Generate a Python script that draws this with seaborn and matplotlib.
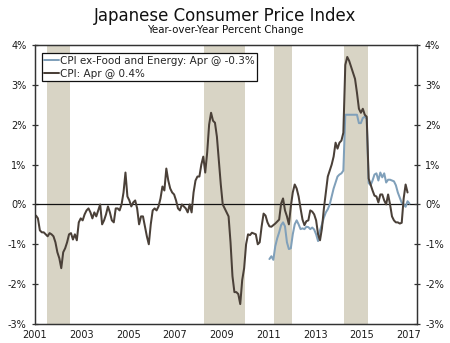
import matplotlib
matplotlib.use("Agg")
import matplotlib.pyplot as plt
import numpy as np
import pandas as pd
import seaborn as sns

# ---------------- data ----------------
cpi_start_year = 2001  # monthly, starting January
cpi = [
    -0.28, -0.35, -0.65, -0.70, -0.70, -0.75, -0.80, -0.72, -0.75, -0.80, -0.95, -1.20,  # 2001
    -1.35, -1.60, -1.20, -1.10, -0.95, -0.75, -0.72, -0.88, -0.75, -0.90, -0.45, -0.35,  # 2002
    -0.40, -0.25, -0.15, -0.10, -0.20, -0.35, -0.20, -0.30, -0.15, 0.00, -0.50, -0.40,   # 2003
    -0.25, -0.05, -0.20, -0.40, -0.45, -0.10, -0.10, -0.15, 0.00, 0.30, 0.80, 0.20,      # 2004
    0.10, -0.05, 0.05, 0.10, -0.10, -0.50, -0.30, -0.30, -0.55, -0.80, -1.00, -0.50,     # 2005
    -0.15, -0.10, -0.15, -0.05, 0.15, 0.45, 0.35, 0.90, 0.60, 0.40, 0.30, 0.25,          # 2006
    0.10, -0.10, -0.15, 0.00, -0.05, -0.10, -0.20, 0.00, -0.20, 0.30, 0.60, 0.70,        # 2007
    0.70, 1.00, 1.20, 0.80, 1.30, 2.00, 2.30, 2.10, 2.05, 1.70, 1.10, 0.50,              # 2008
    0.00, -0.10, -0.20, -0.30, -0.95, -1.80, -2.20, -2.20, -2.25, -2.50, -1.90, -1.60,   # 2009
    -1.00, -0.75, -0.77, -0.71, -0.73, -0.75, -1.00, -0.95, -0.55, -0.23, -0.28, -0.45,  # 2010
    -0.55, -0.56, -0.52, -0.48, -0.43, -0.38, 0.02, 0.15, -0.15, -0.30, -0.50, -0.05,    # 2011
    0.30, 0.50, 0.40, 0.20, -0.10, -0.38, -0.52, -0.42, -0.40, -0.15, -0.18, -0.25,      # 2012
    -0.40, -0.75, -0.90, -0.60, -0.10, 0.30, 0.70, 0.85, 1.00, 1.20, 1.55, 1.40,         # 2013
    1.55, 1.60, 1.80, 3.50, 3.70, 3.60, 3.45, 3.30, 3.15, 2.80, 2.40, 2.30,              # 2014
    2.40, 2.25, 2.20, 0.65, 0.50, 0.35, 0.22, 0.20, 0.05, 0.25, 0.25, 0.10,              # 2015
    0.00, 0.25, 0.00, -0.30, -0.40, -0.45, -0.45, -0.48, -0.46, 0.15, 0.50, 0.30,        # 2016
]

core_start_year = 2011  # monthly, starting January
core = [
    -1.37, -1.30, -1.39, -1.05, -0.85, -0.70, -0.52, -0.45, -0.55, -0.95, -1.12, -1.10,  # 2011
    -0.75, -0.50, -0.40, -0.50, -0.62, -0.60, -0.62, -0.56, -0.57, -0.62, -0.58, -0.63,  # 2012
    -0.75, -0.92, -0.65, -0.50, -0.33, -0.20, -0.12, 0.00, 0.20, 0.40, 0.55, 0.70,       # 2013
    0.75, 0.78, 0.85, 2.25, 2.25, 2.25, 2.25, 2.25, 2.25, 2.25, 2.04, 2.04,              # 2014
    2.17, 2.20, 2.15, 0.54, 0.48, 0.60, 0.75, 0.78, 0.60, 0.80, 0.68, 0.78,              # 2015
    0.55, 0.62, 0.62, 0.60, 0.58, 0.48, 0.30, 0.17, 0.04, 0.00, -0.06, 0.08,             # 2016
    0.02,                                                                                 # 2017
]

recession_start = [2001.5, 2008.25, 2011.25, 2014.25]
recession_end = [2002.5, 2010.0, 2012.0, 2015.25]

year_ticks = list(range(2001, 2018))
year_labels = [str(y) if (y - 2001) % 2 == 0 else "" for y in year_ticks]
pct_ticks = [-3, -2, -1, 0, 1, 2, 3, 4]
pct_labels = [f"{v}%" for v in pct_ticks]

label_core = "CPI ex-Food and Energy: Apr @ -0.3%"
label_cpi = "CPI: Apr @ 0.4%"
title = "Japanese Consumer Price Index"
subtitle = "Year-over-Year Percent Change"

# ---------------- build frames ----------------
def monthly_frame(values, start_year):
    k = np.arange(len(values))
    return pd.DataFrame({"t": start_year + (k + 0.5) / 12.0, "v": values})

df_cpi = monthly_frame(cpi, cpi_start_year)
df_core = monthly_frame(core, core_start_year)

# ---------------- style ----------------
sns.set_theme(style="white")
plt.rcParams["font.family"] = ["DejaVu Sans"]
plt.rcParams["axes.edgecolor"] = "#333333"
plt.rcParams["axes.linewidth"] = 0.9

c_cpi = "#4A4038"
c_core = "#80A0BA"
c_shade = "#D8D4C5"

fig = plt.figure(figsize=(4.5, 3.43), dpi=100)
ax = fig.add_axes([35 / 450, 1 - 324 / 343, (416.7 - 35) / 450, (324 - 45) / 343])

for s, e in zip(recession_start, recession_end):
    ax.axvspan(s, e, color=c_shade, lw=0, zorder=0)

ax.axhline(0, color="#111111", lw=0.9, zorder=1)

sns.lineplot(data=df_core, x="t", y="v", ax=ax, color=c_core, lw=1.45,
             label=label_core, zorder=3)
sns.lineplot(data=df_cpi, x="t", y="v", ax=ax, color=c_cpi, lw=1.45,
             label=label_cpi, zorder=4)

ax.set_xlim(2001, 2017.35)
ax.set_ylim(-3, 4)
ax.set_xlabel("")
ax.set_ylabel("")
ax.set_xticks(year_ticks)
ax.set_xticklabels(year_labels)
ax.set_yticks(pct_ticks)
ax.set_yticklabels(pct_labels)

for sp in ax.spines.values():
    sp.set_visible(True)
    sp.set_color("#333333")

ax.tick_params(axis="both", which="major", direction="inout", length=5,
               width=0.9, color="#333333", labelsize=7, labelcolor="#1a1a1a")
ax.tick_params(axis="x", pad=2)
ax.tick_params(axis="y", pad=3.5)

ax2 = ax.twinx()
ax2.set_ylim(-3, 4)
ax2.set_yticks(pct_ticks)
ax2.set_yticklabels(pct_labels)
ax2.tick_params(axis="y", direction="inout", length=5, width=0.9,
                color="#333333", labelsize=7, labelcolor="#1a1a1a", pad=3.5)
for sp in ax2.spines.values():
    sp.set_color("#333333")

leg = ax.legend(loc="upper left", bbox_to_anchor=(0.018, 0.971),
                borderaxespad=0, frameon=True, fancybox=False,
                fontsize=7.5, handlelength=1.4, handletextpad=0.1,
                borderpad=0.25, labelspacing=0.3)
leg.get_frame().set_edgecolor("#111111")
leg.get_frame().set_linewidth(0.9)
leg.get_frame().set_facecolor("white")
leg.get_frame().set_alpha(1)

fig.text(0.5, 1 - 16 / 343, title, ha="center", va="center",
         fontsize=12, color="#111111")
fig.text(0.5, 1 - 30 / 343, subtitle, ha="center", va="center",
         fontsize=7.4, color="#111111")

fig.savefig("out.png", dpi=100)
